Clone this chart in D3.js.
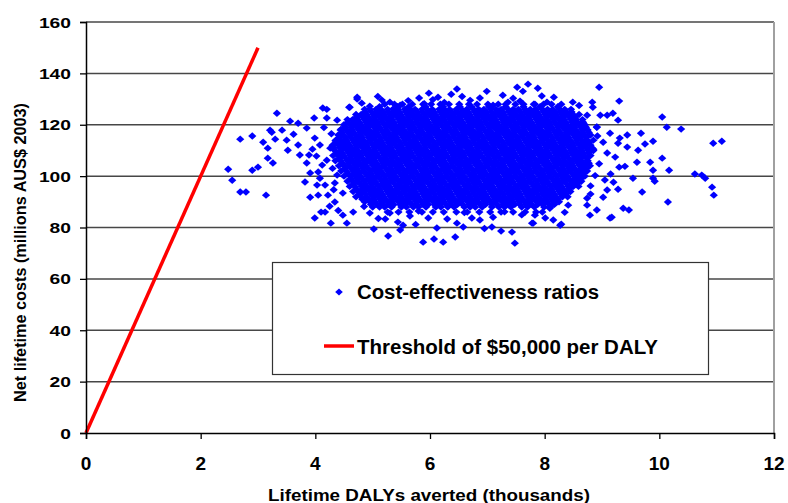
<!DOCTYPE html>
<html>
<head>
<meta charset="utf-8">
<script src="https://cdn.jsdelivr.net/npm/d3@7"></script>
<style>
  body { margin: 0; background: #fff; }
  svg { display: block; font-family: "Liberation Sans", Arial, sans-serif; font-weight: bold; }
</style>
</head>
<body>
<script>
// axis ticks
const xTicks = [0, 2, 4, 6, 8, 10, 12];
const yTicks = [0, 20, 40, 60, 80, 100, 120, 140, 160];

// threshold of $50,000 per DALY: [DALYs averted (thousands), cost (millions)]
const thresholdLine = [[0, 0], [3, 150]];

// dense middle of the cloud, one band per cost level (millions AUS$)
const coreCosts = [128, 127, 126, 125, 124, 123, 122, 121, 120, 119, 118, 117, 116, 115, 114, 113, 112, 111, 110, 109, 108,
                   107, 106, 105, 104, 103, 102, 101, 100, 99, 98, 97, 96, 95, 94, 93, 92, 91, 90, 89, 88, 86];
// DALYs averted (thousands) for the points in each band
const coreDalys = [
  [5.21,5.38,5.52,5.69,5.88,6.02,6.18,6.33,6.51,6.68,6.82,7.01,7.19,7.32,7.49,7.63,7.81,7.98,8.12,8.29],
  [5.12,5.43,5.63,5.92,6.23,6.52,6.72,7.03,7.32,7.63,7.92,8.23],
  [4.86,4.95,5.06,5.14,5.26,5.35,5.44,5.56,5.65,5.74,5.86,5.95,6.04,6.16,6.25,6.34,6.46,6.55,6.64,6.76,6.85,6.94,7.06,7.15,7.24,7.36,7.45,7.54,7.66,7.75,7.84,7.96,8.05,8.14,8.26,8.35,8.46],
  [4.87,4.98,5.07,5.18,5.27,5.38,5.47,5.58,5.67,5.78,5.87,5.98,6.07,6.18,6.27,6.38,6.47,6.58,6.67,6.78,6.87,6.98,7.07,7.18,7.27,7.38,7.47,7.58,7.67,7.78,7.87,7.98,8.07,8.18,8.27,8.38,8.47],
  [4.71,4.8,4.89,5.01,5.1,5.19,5.31,5.4,5.49,5.61,5.7,5.79,5.91,6.0,6.09,6.21,6.3,6.39,6.51,6.6,6.69,6.81,6.9,6.99,7.11,7.2,7.29,7.41,7.5,7.59,7.71,7.8,7.89,8.01,8.1,8.19,8.31,8.4,8.49,8.6],
  [4.72,4.83,4.92,5.03,5.12,5.23,5.32,5.43,5.52,5.63,5.72,5.83,5.92,6.03,6.12,6.23,6.32,6.43,6.52,6.63,6.72,6.83,6.92,7.03,7.12,7.23,7.32,7.43,7.52,7.63,7.72,7.83,7.92,8.03,8.12,8.23,8.32,8.43,8.53],
  [4.56,4.65,4.74,4.86,4.95,5.04,5.16,5.25,5.34,5.46,5.55,5.64,5.76,5.85,5.94,6.06,6.15,6.24,6.36,6.45,6.54,6.66,6.75,6.84,6.96,7.05,7.14,7.26,7.35,7.44,7.56,7.65,7.74,7.86,7.95,8.04,8.16,8.25,8.34,8.46,8.55,8.66],
  [4.57,4.68,4.77,4.88,4.97,5.08,5.17,5.28,5.37,5.48,5.57,5.68,5.77,5.88,5.97,6.08,6.17,6.28,6.37,6.48,6.57,6.68,6.77,6.88,6.97,7.08,7.17,7.28,7.37,7.48,7.57,7.68,7.77,7.88,7.97,8.08,8.17,8.28,8.37,8.48,8.57,8.67],
  [4.5,4.61,4.7,4.79,4.91,5.0,5.09,5.21,5.3,5.39,5.51,5.6,5.69,5.81,5.9,5.99,6.11,6.2,6.29,6.41,6.5,6.59,6.71,6.8,6.89,7.01,7.1,7.19,7.31,7.4,7.49,7.61,7.7,7.79,7.91,8.0,8.09,8.21,8.3,8.39,8.51,8.6,8.7],
  [4.52,4.63,4.72,4.83,4.92,5.03,5.12,5.23,5.32,5.43,5.52,5.63,5.72,5.83,5.92,6.03,6.12,6.23,6.32,6.43,6.52,6.63,6.72,6.83,6.92,7.03,7.12,7.23,7.32,7.43,7.52,7.63,7.72,7.83,7.92,8.03,8.12,8.23,8.32,8.43,8.52,8.63,8.72],
  [4.44,4.55,4.64,4.76,4.85,4.94,5.06,5.15,5.24,5.36,5.45,5.54,5.66,5.75,5.84,5.96,6.05,6.14,6.26,6.35,6.44,6.56,6.65,6.74,6.86,6.95,7.04,7.16,7.25,7.34,7.46,7.55,7.64,7.76,7.85,7.94,8.06,8.15,8.24,8.36,8.45,8.54,8.66,8.75],
  [4.47,4.58,4.67,4.78,4.87,4.98,5.07,5.18,5.27,5.38,5.47,5.58,5.67,5.78,5.87,5.98,6.07,6.18,6.27,6.38,6.47,6.58,6.67,6.78,6.87,6.98,7.07,7.18,7.27,7.38,7.47,7.58,7.67,7.78,7.87,7.98,8.07,8.18,8.27,8.38,8.47,8.58,8.67,8.77],
  [4.4,4.49,4.61,4.7,4.79,4.91,5.0,5.09,5.21,5.3,5.39,5.51,5.6,5.69,5.81,5.9,5.99,6.11,6.2,6.29,6.41,6.5,6.59,6.71,6.8,6.89,7.01,7.1,7.19,7.31,7.4,7.49,7.61,7.7,7.79,7.91,8.0,8.09,8.21,8.3,8.39,8.51,8.6,8.69,8.8],
  [4.42,4.53,4.62,4.73,4.82,4.93,5.02,5.13,5.22,5.33,5.42,5.53,5.62,5.73,5.82,5.93,6.02,6.13,6.22,6.33,6.42,6.53,6.62,6.73,6.82,6.93,7.02,7.13,7.22,7.33,7.42,7.53,7.62,7.73,7.82,7.93,8.02,8.13,8.22,8.33,8.42,8.53,8.62,8.73],
  [4.36,4.45,4.54,4.66,4.75,4.84,4.96,5.05,5.14,5.26,5.35,5.44,5.56,5.65,5.74,5.86,5.95,6.04,6.16,6.25,6.34,6.46,6.55,6.64,6.76,6.85,6.94,7.06,7.15,7.24,7.36,7.45,7.54,7.66,7.75,7.84,7.96,8.05,8.14,8.26,8.35,8.44,8.56,8.65,8.74,8.85],
  [4.37,4.48,4.57,4.68,4.77,4.88,4.97,5.08,5.17,5.28,5.37,5.48,5.57,5.68,5.77,5.88,5.97,6.08,6.17,6.28,6.37,6.48,6.57,6.68,6.77,6.88,6.97,7.08,7.17,7.28,7.37,7.48,7.57,7.68,7.77,7.88,7.97,8.08,8.17,8.28,8.37,8.48,8.57,8.68,8.77],
  [4.3,4.41,4.5,4.59,4.71,4.8,4.89,5.01,5.1,5.19,5.31,5.4,5.49,5.61,5.7,5.79,5.91,6.0,6.09,6.21,6.3,6.39,6.51,6.6,6.69,6.81,6.9,6.99,7.11,7.2,7.29,7.41,7.5,7.59,7.71,7.8,7.89,8.01,8.1,8.19,8.31,8.4,8.49,8.61,8.7,8.8],
  [4.32,4.43,4.52,4.63,4.72,4.83,4.92,5.03,5.12,5.23,5.32,5.43,5.52,5.63,5.72,5.83,5.92,6.03,6.12,6.23,6.32,6.43,6.52,6.63,6.72,6.83,6.92,7.03,7.12,7.23,7.32,7.43,7.52,7.63,7.72,7.83,7.92,8.03,8.12,8.23,8.32,8.43,8.52,8.63,8.72,8.82],
  [4.34,4.45,4.56,4.65,4.74,4.86,4.95,5.04,5.16,5.25,5.34,5.46,5.55,5.64,5.76,5.85,5.94,6.06,6.15,6.24,6.36,6.45,6.54,6.66,6.75,6.84,6.96,7.05,7.14,7.26,7.35,7.44,7.56,7.65,7.74,7.86,7.95,8.04,8.16,8.25,8.34,8.46,8.55,8.64,8.76,8.85],
  [4.38,4.47,4.58,4.67,4.78,4.87,4.98,5.07,5.18,5.27,5.38,5.47,5.58,5.67,5.78,5.87,5.98,6.07,6.18,6.27,6.38,6.47,6.58,6.67,6.78,6.87,6.98,7.07,7.18,7.27,7.38,7.47,7.58,7.67,7.78,7.87,7.98,8.07,8.18,8.27,8.38,8.47,8.58,8.67,8.77],
  [4.31,4.4,4.49,4.61,4.7,4.79,4.91,5.0,5.09,5.21,5.3,5.39,5.51,5.6,5.69,5.81,5.9,5.99,6.11,6.2,6.29,6.41,6.5,6.59,6.71,6.8,6.89,7.01,7.1,7.19,7.31,7.4,7.49,7.61,7.7,7.79,7.91,8.0,8.09,8.21,8.3,8.39,8.51,8.6,8.69,8.8],
  [4.42,4.53,4.62,4.73,4.82,4.93,5.02,5.13,5.22,5.33,5.42,5.53,5.62,5.73,5.82,5.93,6.02,6.13,6.22,6.33,6.42,6.53,6.62,6.73,6.82,6.93,7.02,7.13,7.22,7.33,7.42,7.53,7.62,7.73,7.82,7.93,8.02,8.13,8.22,8.33,8.42,8.53,8.62,8.73],
  [4.35,4.44,4.56,4.65,4.74,4.86,4.95,5.04,5.16,5.25,5.34,5.46,5.55,5.64,5.76,5.85,5.94,6.06,6.15,6.24,6.36,6.45,6.54,6.66,6.75,6.84,6.96,7.05,7.14,7.26,7.35,7.44,7.56,7.65,7.74,7.86,7.95,8.04,8.16,8.25,8.34,8.46,8.55,8.64,8.75],
  [4.47,4.58,4.67,4.78,4.87,4.98,5.07,5.18,5.27,5.38,5.47,5.58,5.67,5.78,5.87,5.98,6.07,6.18,6.27,6.38,6.47,6.58,6.67,6.78,6.87,6.98,7.07,7.18,7.27,7.38,7.47,7.58,7.67,7.78,7.87,7.98,8.07,8.18,8.27,8.38,8.47,8.58,8.67,8.77],
  [4.41,4.5,4.59,4.71,4.8,4.89,5.01,5.1,5.19,5.31,5.4,5.49,5.61,5.7,5.79,5.91,6.0,6.09,6.21,6.3,6.39,6.51,6.6,6.69,6.81,6.9,6.99,7.11,7.2,7.29,7.41,7.5,7.59,7.71,7.8,7.89,8.01,8.1,8.19,8.31,8.4,8.49,8.61,8.7,8.79],
  [4.52,4.63,4.72,4.83,4.92,5.03,5.12,5.23,5.32,5.43,5.52,5.63,5.72,5.83,5.92,6.03,6.12,6.23,6.32,6.43,6.52,6.63,6.72,6.83,6.92,7.03,7.12,7.23,7.32,7.43,7.52,7.63,7.72,7.83,7.92,8.03,8.12,8.23,8.32,8.43,8.52,8.63,8.73],
  [4.45,4.54,4.66,4.75,4.84,4.96,5.05,5.14,5.26,5.35,5.44,5.56,5.65,5.74,5.86,5.95,6.04,6.16,6.25,6.34,6.46,6.55,6.64,6.76,6.85,6.94,7.06,7.15,7.24,7.36,7.45,7.54,7.66,7.75,7.84,7.96,8.05,8.14,8.26,8.35,8.44,8.56,8.65,8.74],
  [4.57,4.68,4.77,4.88,4.97,5.08,5.17,5.28,5.37,5.48,5.57,5.68,5.77,5.88,5.97,6.08,6.17,6.28,6.37,6.48,6.57,6.68,6.77,6.88,6.97,7.08,7.17,7.28,7.37,7.48,7.57,7.68,7.77,7.88,7.97,8.08,8.17,8.28,8.37,8.48,8.57,8.67],
  [4.5,4.61,4.7,4.79,4.91,5.0,5.09,5.21,5.3,5.39,5.51,5.6,5.69,5.81,5.9,5.99,6.11,6.2,6.29,6.41,6.5,6.59,6.71,6.8,6.89,7.01,7.1,7.19,7.31,7.4,7.49,7.61,7.7,7.79,7.91,8.0,8.09,8.21,8.3,8.39,8.51,8.6,8.7],
  [4.62,4.73,4.82,4.93,5.02,5.13,5.22,5.33,5.42,5.53,5.62,5.73,5.82,5.93,6.02,6.13,6.22,6.33,6.42,6.53,6.62,6.73,6.82,6.93,7.02,7.13,7.22,7.33,7.42,7.53,7.62,7.73,7.82,7.93,8.02,8.13,8.22,8.33,8.42,8.53,8.63],
  [4.56,4.65,4.74,4.86,4.95,5.04,5.16,5.25,5.34,5.46,5.55,5.64,5.76,5.85,5.94,6.06,6.15,6.24,6.36,6.45,6.54,6.66,6.75,6.84,6.96,7.05,7.14,7.26,7.35,7.44,7.56,7.65,7.74,7.86,7.95,8.04,8.16,8.25,8.34,8.46,8.55,8.64],
  [4.67,4.78,4.87,4.98,5.07,5.18,5.27,5.38,5.47,5.58,5.67,5.78,5.87,5.98,6.07,6.18,6.27,6.38,6.47,6.58,6.67,6.78,6.87,6.98,7.07,7.18,7.27,7.38,7.47,7.58,7.67,7.78,7.87,7.98,8.07,8.18,8.27,8.38,8.48,8.57],
  [4.6,4.69,4.81,4.9,4.99,5.11,5.2,5.29,5.41,5.5,5.59,5.71,5.8,5.89,6.01,6.1,6.19,6.31,6.4,6.49,6.61,6.7,6.79,6.91,7.0,7.09,7.21,7.3,7.39,7.51,7.6,7.69,7.81,7.9,7.99,8.11,8.2,8.29,8.41,8.5,8.59],
  [4.72,4.83,4.92,5.03,5.12,5.23,5.32,5.43,5.52,5.63,5.72,5.83,5.92,6.03,6.12,6.23,6.32,6.43,6.52,6.63,6.72,6.83,6.92,7.03,7.12,7.23,7.32,7.43,7.52,7.63,7.72,7.83,7.92,8.03,8.12,8.23,8.32,8.43],
  [4.66,4.75,4.84,4.96,5.05,5.14,5.26,5.35,5.44,5.56,5.65,5.74,5.86,5.95,6.04,6.16,6.25,6.34,6.46,6.55,6.64,6.76,6.85,6.94,7.06,7.15,7.24,7.36,7.45,7.54,7.66,7.75,7.84,7.96,8.05,8.14,8.26,8.35,8.45],
  [4.77,4.88,4.97,5.08,5.17,5.28,5.37,5.48,5.57,5.68,5.77,5.88,5.97,6.08,6.17,6.28,6.37,6.48,6.57,6.68,6.77,6.88,6.97,7.08,7.17,7.28,7.37,7.48,7.57,7.68,7.77,7.88,7.97,8.08,8.17,8.28,8.37],
  [4.71,4.8,4.89,5.01,5.1,5.19,5.31,5.4,5.49,5.61,5.7,5.79,5.91,6.0,6.09,6.21,6.3,6.39,6.51,6.6,6.69,6.81,6.9,6.99,7.11,7.2,7.29,7.41,7.5,7.59,7.71,7.8,7.89,8.01,8.1,8.19,8.31,8.4],
  [4.82,4.93,5.02,5.13,5.22,5.33,5.42,5.53,5.62,5.73,5.82,5.93,6.02,6.13,6.22,6.33,6.42,6.53,6.62,6.73,6.82,6.93,7.02,7.13,7.22,7.33,7.42,7.53,7.62,7.73,7.82,7.93,8.02,8.12,8.23],
  [4.86,4.95,5.04,5.16,5.25,5.34,5.46,5.55,5.64,5.76,5.85,5.94,6.06,6.15,6.24,6.36,6.45,6.54,6.66,6.75,6.84,6.96,7.05,7.14,7.26,7.35,7.44,7.56,7.65,7.74,7.86,7.95,8.04,8.16,8.25],
  [4.97,5.08,5.17,5.28,5.37,5.48,5.57,5.68,5.77,5.88,5.97,6.08,6.17,6.28,6.37,6.48,6.57,6.68,6.77,6.88,6.97,7.08,7.17,7.28,7.37,7.48,7.57,7.68,7.77,7.88,7.97,8.08,8.17],
  [5.0,5.12,5.21,5.33,5.5,5.59,5.71,5.8,5.93,6.1,6.19,6.31,6.42,6.6,6.7,6.79,6.91,7.08,7.2,7.3,7.41,7.6,7.7,7.82,7.99,8.1],
  [5.26,5.45,5.64,5.86,6.05,6.24,6.46,6.65,6.86,7.05,7.24,7.45,7.66,7.85,7.96]
];

// scattered points around the cloud: [DALYs averted (thousands), cost (millions)]
const outerPoints = [
  [2.48,102.7],[2.55,98.4],[2.69,93.8],[2.79,93.8],[2.69,114.4],[2.9,115.6],[2.9,102.3],[3.0,103.5],[3.14,92.6],[3.09,113.2],
  [3.17,110.9],[3.17,107],[3.21,117.9],[3.24,117.1],[3.26,105.1],[3.3,114.4],[3.33,124.5],[3.42,117.9],[3.5,114],[3.52,110.1],
  [3.56,121.4],[3.7,120.6],[3.7,112.1],[3.73,108.2],[3.82,97.7],[3.85,118.7],[3.85,105.1],[3.89,108.2],[3.91,101.2],[3.91,91.8],
  [3.98,122.6],[3.99,114.8],[4.03,96.5],[4.05,101.6],[4.05,92.6],[4.08,99.2],[4.08,112.1],[4.13,126.5],[4.17,96.5],[4.2,126],
  [4.2,122.6],[4.2,106.2],[4.22,92.6],[4.26,110.9],[4.34,97.3],[4.34,89.9],[4.38,121.8],[4.38,100.4],[4.48,93.4],[4.6,126.8],
  [4.73,130],[4.12,104.3],[4.3,103],[4.28,116.5],[4.35,113.8],[4.15,118.9],[4.42,108.5],[4.45,118.2],[4.32,94.7],[4.4,86.6],
  [4.25,88.3],[4.1,86],[3.99,83.7],[4.17,86],[4.27,81.7],[4.48,84.8],[4.55,81.7],[3.95,110.5],[4.02,107.8],[3.62,116.3],
  [4.59,126.8],[4.73,130.7],[4.81,128.4],[5.09,131],[5.16,129.6],[5.3,128.8],[5.48,127.6],[5.81,130.4],[5.98,132.3],[6.14,130.7],
  [6.37,131.9],[6.47,133.9],[6.56,131],[6.87,130.4],[6.99,133],[7.1,127.6],[7.27,131.5],[7.36,128.8],[7.52,134.6],[7.57,129.2],
  [7.62,133],[7.71,135.8],[7.88,134.2],[7.83,128],[8.04,128.8],[8.16,130.7],[8.49,128.8],[8.83,128.8],[8.84,126.8],[8.95,134.6],
  [9.3,129.2],[8.32,124.9],[8.74,123.7],[9.09,123.7],[8.91,119],[8.97,123.7],[9.19,124.5],[5.62,129.4],[6.25,128.7],[6.7,129.5],
  [7.45,130.3],[5.9,128.2],[4.95,127.2],[8.6,127.5],[7.95,131.2],[6.05,129.8],
  [10.05,123],[10.13,119],[10.38,118.3],[9.68,116.7],[9.44,116],[9.89,113.6],[9.75,112.5],[9.63,110.1],[10.05,107],[9.61,105.4],
  [9.84,105.4],[9.89,102.3],[10.17,102.3],[9.54,99.2],[9.89,99.2],[9.92,98],[10.74,100.4],[10.8,99.2],[10.62,100.8],[10.92,95.7],
  [10.95,92.6],[10.94,112.8],[11.09,113.6],[9.7,93.8],[10.15,89.9],[9.37,87.5],[9.47,86.8],[9.17,84],[9.14,83.7],[8.79,84.8],
  [8.91,86.8],[8.41,88.7],[8.74,88.7],[9.09,94.6],[9.28,94.9],[9.02,91.8],[9.3,103.5],[9.23,107.4],[9.09,109],[9.28,112.8],
  [9.44,111.3],[9.02,113.2],[9.28,121.8],[8.91,119.1],[9.14,116.7],[9.31,114.8],[8.85,110.5],[8.95,104.8],[8.88,100.2],[9.05,98.5],
  [8.8,96.2],[9.15,100.8],[8.92,115.6],[8.8,93],[9.4,103.8],[9.2,97.6],
  [5.02,79.4],[5.27,76.7],[5.88,74.3],[6.07,75.5],[6.23,74.3],[6.44,76.3],[6.12,79.8],[6.58,80.2],[5.48,79],[5.53,80.9],
  [7.08,80.2],[7.24,78.6],[7.43,78.2],[7.48,73.9],[4.66,86],[4.95,85.6],[5.22,83.3],[5.3,85.6],[5.44,82.1],[5.97,83.7],
  [6.3,83.3],[6.47,81.7],[6.73,83.7],[6.87,82.9],[7.1,84],[7.78,81.7],[8.01,83.7],[8.15,82.9],[8.27,80.9],[8.09,87.5],
  [8.74,91.4],[7.83,84.8],[8.29,81.3],[7.8,81.7],[5.65,84.5],[5.8,86.4],[6.6,85.8],[7.3,86.1],[7.6,84.9],[8.35,85.9],
  [4.85,88.2],[5.1,83.5],[6.95,79.6],[5.75,81.2]
];

const W = 788, H = 503;
const margin = { top: 22, right: 14, bottom: 70, left: 86 };
const width = W - margin.left - margin.right,   // 688
      height = H - margin.top - margin.bottom;  // 411

const x = d3.scaleLinear().domain([0, 12]).range([0, width]);
const y = d3.scaleLinear().domain([0, 160]).range([height, 0]);

const svg = d3.select('body').append('svg')
  .attr('width', W)
  .attr('height', H);

const g = svg.append('g').attr('transform', `translate(${margin.left},${margin.top})`);

// gridlines
g.append('g')
  .selectAll('line')
  .data(yTicks.filter(d => d > 0))
  .enter().append('line')
  .attr('x1', 0).attr('x2', width)
  .attr('y1', d => y(d)).attr('y2', d => y(d))
  .attr('stroke', '#474747')
  .attr('stroke-width', 1.5);

// right border of plot area
g.append('line')
  .attr('x1', width).attr('x2', width)
  .attr('y1', 0).attr('y2', height)
  .attr('stroke', '#a0a0a0')
  .attr('stroke-width', 2);

// threshold line
const line = d3.line().x(d => x(d[0])).y(d => y(d[1]));
g.append('path')
  .datum(thresholdLine)
  .attr('d', line)
  .attr('fill', 'none')
  .attr('stroke', '#ff0000')
  .attr('stroke-width', 3.5);

// scatter points (diamonds are a little wider than tall, as in the original)
const points = [];
coreCosts.forEach((c, i) => coreDalys[i].forEach(d => points.push([d, c])));
outerPoints.forEach(p => points.push(p));

const rx = 4.1, ry = 3.7;
const diamond = `M0,${-ry}L${rx},0L0,${ry}L${-rx},0Z`;
g.append('g')
  .selectAll('path')
  .data(points)
  .enter().append('path')
  .attr('d', diamond)
  .attr('transform', d => `translate(${x(d[0])},${y(d[1])})`)
  .attr('fill', '#0000ff');

// axes
const xAxis = d3.axisBottom(x).tickValues(xTicks).tickSize(6).tickFormat('');
const yAxis = d3.axisLeft(y).tickValues(yTicks).tickSize(6).tickFormat('');

g.append('g')
  .attr('transform', `translate(0,${height})`)
  .call(xAxis)
  .call(a => a.select('.domain').attr('stroke', '#000').attr('stroke-width', 1.5))
  .call(a => a.selectAll('.tick line').attr('stroke', '#000').attr('stroke-width', 1.3));

g.append('g')
  .call(yAxis)
  .call(a => a.select('.domain').attr('stroke', '#000').attr('stroke-width', 1.5))
  .call(a => a.selectAll('.tick line').attr('stroke', '#000').attr('stroke-width', 1.3));

// tick labels
g.append('g')
  .selectAll('text')
  .data(yTicks)
  .enter().append('text')
  .attr('x', -15)
  .attr('y', d => y(d) + 5.5)
  .attr('text-anchor', 'end')
  .attr('font-size', '15.5px')
  .attr('textLength', d => String(d).length * 10.7)
  .attr('lengthAdjust', 'spacingAndGlyphs')
  .text(d => d);

g.append('g')
  .selectAll('text')
  .data(xTicks)
  .enter().append('text')
  .attr('x', d => x(d))
  .attr('y', height + 37)
  .attr('text-anchor', 'middle')
  .attr('font-size', '19px')
  .text(d => d);

// axis titles
svg.append('text')
  .attr('x', 268)
  .attr('y', 501)
  .attr('font-size', '16px')
  .attr('textLength', 322)
  .attr('lengthAdjust', 'spacingAndGlyphs')
  .text('Lifetime DALYs averted (thousands)');

svg.append('text')
  .attr('transform', 'translate(26,402) rotate(-90)')
  .attr('font-size', '17px')
  .attr('textLength', 299)
  .attr('lengthAdjust', 'spacingAndGlyphs')
  .text('Net lifetime costs (millions AUS$ 2003)');

// legend
const legend = svg.append('g');
legend.append('rect')
  .attr('x', 272.5).attr('y', 262.5)
  .attr('width', 436).attr('height', 112)
  .attr('fill', '#fff')
  .attr('stroke', '#333')
  .attr('stroke-width', 1.2);

legend.append('path')
  .attr('d', `M0,-3.5L3.8,0L0,3.5L-3.8,0Z`)
  .attr('transform', 'translate(339,292)')
  .attr('fill', '#0000ff');

legend.append('text')
  .attr('x', 357).attr('y', 299)
  .attr('font-size', '19.5px')
  .attr('textLength', 242)
  .attr('lengthAdjust', 'spacingAndGlyphs')
  .text('Cost-effectiveness ratios');

legend.append('line')
  .attr('x1', 324).attr('x2', 354)
  .attr('y1', 346).attr('y2', 346)
  .attr('stroke', '#ff0000')
  .attr('stroke-width', 3.5);

legend.append('text')
  .attr('x', 357).attr('y', 354)
  .attr('font-size', '19.5px')
  .attr('textLength', 301)
  .attr('lengthAdjust', 'spacingAndGlyphs')
  .text('Threshold of $50,000 per DALY');
</script>
</body>
</html>
